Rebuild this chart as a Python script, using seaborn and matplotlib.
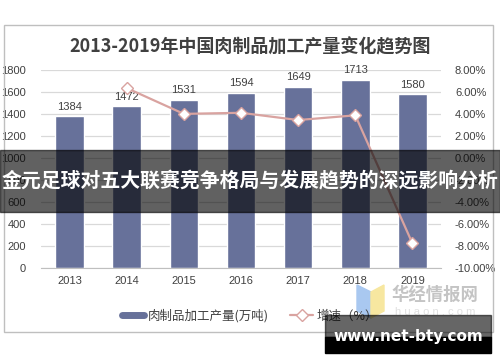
"""2013-2019 meat product processing output chart, recreated with seaborn."""

import numpy as np
import pandas as pd
import matplotlib
matplotlib.use("Agg")
import matplotlib.pyplot as plt
import seaborn as sns
from matplotlib.lines import Line2D
from matplotlib.patches import Rectangle, Polygon
from matplotlib.ticker import FuncFormatter, FixedLocator

years = ["2013", "2014", "2015", "2016", "2017", "2018", "2019"]
output = [1384, 1472, 1531, 1594, 1649, 1713, 1580]
growth = [np.nan, 0.0636, 0.0401, 0.0411, 0.0345, 0.0388, -0.0776]

title = "2013-2019年中国肉制品加工产量变化趋势图"
bar_label = "肉制品加工产量(万吨)"
line_label = "增速（%）"
banner = "金元足球对五大联赛竞争格局与发展趋势的深远影响分析"
site = "www.net-bty.com"

BAR_COLOR = "#67719A"
LINE_COLOR = "#D9A3A0"
GRID = "#D9D9D9"
TXT = "#404040"

sns.set_style("white")
plt.rcParams["font.family"] = ["Liberation Sans", "Noto Sans CJK SC", "DejaVu Sans"]

df = pd.DataFrame({"year": years, "output": output, "growth": growth})
df["pos"] = np.arange(len(df))

W, H = 500, 362
fig = plt.figure(figsize=(W / 100, H / 100), dpi=100)
ax = fig.add_axes([41 / W, 1 - 268 / H, 400 / W, 198 / H])

sns.barplot(data=df, x="year", y="output", order=years, color=BAR_COLOR,
            width=0.5, saturation=1, ax=ax)
ax.bar_label(ax.containers[0], padding=3, fontsize=8, color=TXT)
ax.set_ylim(0, 1800)
ax.set_yticks(np.arange(0, 1801, 200))
ax.set_xlim(-0.5, len(years) - 0.5)
ax.set_axisbelow(True)
ax.grid(axis="y", color=GRID, lw=0.9)
ax.set_xlabel("")
ax.set_ylabel("")
for s in ["top", "right", "left"]:
    ax.spines[s].set_visible(False)
ax.spines["bottom"].set_color("#BFBFBF")
ax.tick_params(axis="y", length=0, pad=11, labelsize=8, labelcolor=TXT)
ax.tick_params(axis="x", which="major", length=0, pad=6, labelsize=8, labelcolor=TXT)
ax.xaxis.set_minor_locator(FixedLocator(np.arange(-0.5, len(years), 1.0)))
ax.tick_params(axis="x", which="minor", length=4, color="#BFBFBF")

ax2 = ax.twinx()
sns.lineplot(data=df, x="pos", y="growth", color=LINE_COLOR, lw=1.6,
             marker="D", markersize=6, markerfacecolor="white",
             markeredgecolor=LINE_COLOR, markeredgewidth=1.0, ax=ax2)
ax2.set_ylim(-0.10, 0.08)
ax2.set_yticks(np.arange(-0.10, 0.0801, 0.02))
ax2.yaxis.set_major_formatter(FuncFormatter(lambda v, p: f"{v * 100:.2f}%"))
ax2.set_xlim(-0.5, len(years) - 0.5)
ax2.set_ylabel("")
ax2.set_xlabel("")
for s in ax2.spines.values():
    s.set_visible(False)
ax2.tick_params(axis="y", length=0, pad=10, labelsize=8, labelcolor=TXT)

fig.text(0.5, 1 - 47 / H, title, ha="center", va="center", fontsize=13,
         fontweight="bold", color=TXT,
         family=["Noto Sans CJK SC", "DejaVu Sans"])

handles = [
    Line2D([], [], color=BAR_COLOR, lw=5),
    Line2D([], [], color=LINE_COLOR, lw=1.6, marker="D", markersize=6,
           markerfacecolor="white", markeredgecolor=LINE_COLOR),
]
fig.legend(handles, [bar_label, line_label], loc="center",
           bbox_to_anchor=(0.5, 1 - 316 / H), ncol=2, frameon=False,
           handlelength=1.8, handletextpad=0.3, columnspacing=1.7,
           labelcolor=TXT, prop={"family": ["Noto Sans CJK SC", "DejaVu Sans"], "size": 9})

# outer frame
fig.patches.append(Rectangle((4 / W, 1 - 332 / H), 489 / W, 307 / H, fill=False,
                             edgecolor="#BFBFBF", lw=1, transform=fig.transFigure))

# watermark logo and text
fig.patches.append(Polygon([(357 / W, 1 - 285 / H), (371 / W, 1 - 292 / H),
                            (371 / W, 1 - 318 / H), (357 / W, 1 - 311 / H)],
                           closed=True, color="#A9C8F0", transform=fig.transFigure))
fig.patches.append(Polygon([(371 / W, 1 - 292 / H), (384 / W, 1 - 285 / H),
                            (384 / W, 1 - 311 / H), (371 / W, 1 - 318 / H)],
                           closed=True, color="#F7E7A0", transform=fig.transFigure))
fig.text(435 / W, 1 - 295 / H, "华经情报网", ha="center", va="center", fontsize=12.5,
         fontweight="bold", color="#C4C4C4", family=["Noto Sans CJK SC", "DejaVu Sans"])
fig.text(435 / W, 1 - 312 / H, "h u a o n . c o m", ha="center", va="center",
         fontsize=8, color="#E0E0E0")

# overlay banner
fig.patches.append(Rectangle((0, 1 - 212 / H), 1, 62 / H, color="black", alpha=0.62,
                             transform=fig.transFigure, zorder=10))
fig.text(0.5, 1 - 181 / H, banner, ha="center", va="center", fontsize=14.3,
         fontweight="bold", color="white", zorder=11,
         family=["Noto Sans CJK SC", "DejaVu Sans"])

# site box
fig.patches.append(Rectangle((325 / W, 1 - 337 / H), 166 / W, 22 / H, color="black",
                             alpha=0.6, transform=fig.transFigure, zorder=10))
fig.patches.append(Rectangle((325 / W, 1 - 353 / H), 166 / W, 16 / H, color="black",
                             transform=fig.transFigure, zorder=10))
fig.text(408 / W, 1 - 337 / H, site, ha="center", va="center", fontsize=11,
         fontweight="bold", color="white", zorder=11, family="DejaVu Sans")

fig.savefig("out.png", dpi=100)
plt.close(fig)
